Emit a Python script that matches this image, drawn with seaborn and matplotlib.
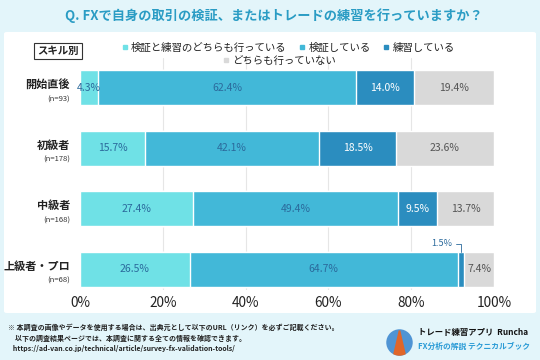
import pandas as pd
import seaborn as sns
import matplotlib.pyplot as plt
from matplotlib.patches import FancyBboxPatch, Circle, Polygon
from matplotlib.lines import Line2D
import matplotlib.transforms as mtransforms

# --- DATI ---
gruppi = ['開始直後', '初級者', '中級者', '上級者・プロ']
n_gruppi = ['(n=93)', '(n=178)', '(n=168)', '(n=68)']
serie = ['検証と練習のどちらも行っている', '検証している', '練習している', 'どちらも行っていない']
entrambi = [4.3, 15.7, 27.4, 26.5]
verifica = [62.4, 42.1, 49.4, 64.7]
pratica = [14.0, 18.5, 9.5, 1.5]
nessuno = [19.4, 23.6, 13.7, 7.4]
tick_x = [0, 20, 40, 60, 80, 100]

colori = ['#6fe1e6', '#42b8d8', '#2b8dbf', '#d9d9d9']
colori_testo = ['#2b6a9c', '#2b6a9c', 'white', '#555555']
sfondo = '#e3f5fa'

df = pd.DataFrame({'gruppo': gruppi, serie[0]: entrambi, serie[1]: verifica,
                   serie[2]: pratica, serie[3]: nessuno})
cumulato = df[serie].cumsum(axis=1)

sns.set_theme(style='white')
plt.rcParams['font.family'] = ['Noto Sans CJK JP', 'DejaVu Sans']

fig = plt.figure(figsize=(5.4, 3.6), dpi=100, facecolor=sfondo)

# pannello bianco (dietro a tutto)
fig.patches.append(FancyBboxPatch((4 / 540, 1 - 313 / 360), 532 / 540, 281 / 360,
                                  boxstyle='round,pad=0,rounding_size=0.005',
                                  transform=fig.transFigure, facecolor='white',
                                  edgecolor='none', zorder=-10))

ax = fig.add_axes([80 / 540, (360 - 290) / 360, 414 / 540, 232.4 / 360])
ax.set_facecolor('white')

# barre impilate: dal totale cumulato piu lungo al piu corto
for col, colore in reversed(list(zip(serie, colori))):
    sns.barplot(x=cumulato[col], y=df['gruppo'], orient='h', color=colore,
                saturation=1, width=0.58, ax=ax, zorder=2)

ax.set_xlim(0, 100)
ax.set_ylim(3.34, -0.5)
ax.set_xticks(tick_x)
ax.set_xticklabels([f'{t}%' for t in tick_x], fontsize=9.8, color='#222222')
ax.tick_params(axis='x', length=0, pad=4)
ax.set_yticks([])
ax.set_xlabel('')
ax.set_ylabel('')
for s in ax.spines.values():
    s.set_visible(False)
for t in tick_x[1:-1]:
    ax.axvline(t, color='#e6e6e6', lw=0.8, zorder=1)

# etichette dei valori
for i in range(len(gruppi)):
    for j, col in enumerate(serie):
        val = df[col][i]
        centro = cumulato[col][i] - val / 2
        if val < 3:
            ax.annotate(f'{val:.1f}%', xy=(centro, i - 0.29), xytext=(-6, 6),
                        textcoords='offset points', ha='right', va='center',
                        fontsize=6.5, color='#2b6a9c',
                        arrowprops=dict(arrowstyle='-', color='#2b6a9c', lw=0.6,
                                        connectionstyle='angle,angleA=0,angleB=90,rad=0',
                                        shrinkA=0, shrinkB=0))
        else:
            ax.text(centro, i, f'{val:.1f}%', ha='center', va='center',
                    fontsize=7.5, color=colori_testo[j], zorder=3)

# etichette dei gruppi
trans = mtransforms.blended_transform_factory(ax.transAxes, ax.transData)
for i, (g, n) in enumerate(zip(gruppi, n_gruppi)):
    ax.text(-0.024, i - 0.05, g, transform=trans, ha='right', va='center',
            fontsize=8, fontweight='bold', color='#222222')
    ax.text(-0.024, i + 0.19, n, transform=trans, ha='right', va='center',
            fontsize=5.5, color='#333333')

# titolo
fig.text(274 / 540, 1 - 16 / 360, 'Q. FXで自身の取引の検証、またはトレードの練習を行っていますか？',
         ha='center', va='center', fontsize=9.5, fontweight='bold', color='#2a9cc4')

# legenda
maniglie = [Line2D([], [], marker='s', linestyle='', markersize=3, color=c) for c in colori]
leg1 = fig.legend(maniglie[:3], serie[:3], loc='center', bbox_to_anchor=(288 / 540, 1 - 48 / 360),
                  ncol=3, frameon=False, fontsize=7.5, handlelength=0.6, handletextpad=0.3,
                  columnspacing=1.2, borderpad=0)
leg2 = fig.legend(maniglie[3:], serie[3:], loc='center', bbox_to_anchor=(279 / 540, 1 - 61 / 360),
                  frameon=False, fontsize=7.5, handlelength=0.6, handletextpad=0.3, borderpad=0)
for leg in (leg1, leg2):
    for t in leg.get_texts():
        t.set_color('#222222')

fig.text(58 / 540, 1 - 51 / 360, 'スキル別', ha='center', va='center', fontsize=7.5,
         fontweight='bold', color='#222222',
         bbox=dict(boxstyle='square,pad=0.3', facecolor='white', edgecolor='#333333', lw=0.8))

# note in fondo
note = ['※ 本調査の画像やデータを使用する場合は、出典元として以下のURL（リンク）を必ずご記載ください。',
        '　以下の調査結果ページでは、本調査に関する全ての情報を確認できます。',
        '   https://ad-van.co.jp/technical/article/survey-fx-validation-tools/']
for k, riga in enumerate(note):
    fig.text(8 / 540, 1 - (327 + 11 * k) / 360, riga, ha='left', va='center',
             fontsize=5, fontweight='bold', color='#222222')

# logo
ax_logo = fig.add_axes([386 / 540, (360 - 356) / 360, 27 / 540, 27 / 360])
ax_logo.set_xlim(0, 1)
ax_logo.set_ylim(0, 1)
ax_logo.axis('off')
cerchio = Circle((0.5, 0.5), 0.49, facecolor='#4f94d4', edgecolor='none')
ax_logo.add_patch(cerchio)
torre = Polygon([(0.25, 0.0), (0.75, 0.0), (0.53, 0.95), (0.47, 0.95)],
                facecolor='#e0662a', edgecolor='none')
ax_logo.add_patch(torre)
torre.set_clip_path(cerchio)

fig.text(418 / 540, 1 - 333 / 360, 'トレード練習アプリ  Runcha', ha='left', va='center',
         fontsize=6, fontweight='bold', color='#111111')
fig.text(418 / 540, 1 - 346 / 360, 'FX分析の解説 テクニカルブック', ha='left', va='center',
         fontsize=5.6, fontweight='bold', color='#2a9bd6')

plt.savefig('out.png', dpi=100, facecolor=sfondo)
